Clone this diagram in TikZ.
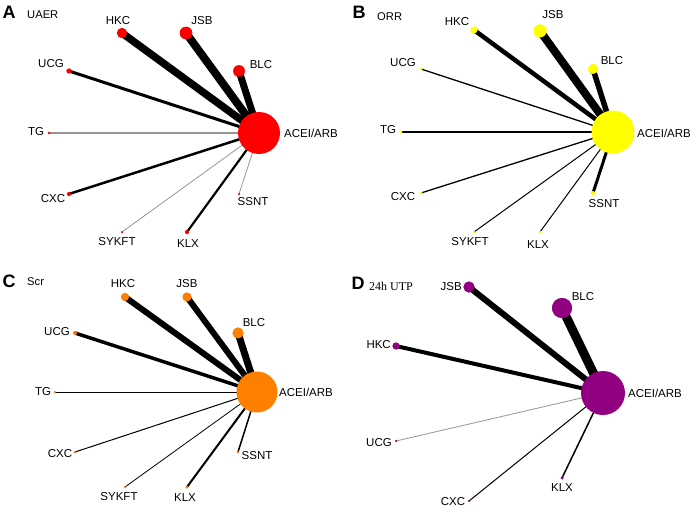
\documentclass[tikz,border=0pt]{standalone}
\usepackage{fontspec}
\setmainfont{Liberation Sans}
\newfontfamily\serifttl{Liberation Serif}
\definecolor{cA}{RGB}{255,0,0}
\definecolor{cB}{RGB}{255,255,0}
\definecolor{cC}{RGB}{255,128,0}
\definecolor{cD}{RGB}{145,0,128}
\definecolor{edgegray}{RGB}{150,150,150}
\tikzset{
  dot/.style={circle,inner sep=0pt,draw=none},
  lab/.style={inner sep=0pt,font=\fontsize{11.5}{12}\selectfont},
  panel/.style={inner sep=0pt,font=\fontsize{18}{19}\selectfont\bfseries},
  ttl/.style={inner sep=0pt,font=\fontsize{11.2}{12}\selectfont},
  edge/.style={draw=black},
  gedge/.style={draw=edgegray}
}
\begin{document}
\begin{tikzpicture}[x=1pt,y=-1pt]
\useasboundingbox (0,0) rectangle (699,511);
\fill[white] (0,0) rectangle (699,511);

% ================= Panel A =================
\node[panel] (A-let) at (9,12) {A};
\node[ttl,anchor=west] (A-ttl) at (27,15) {UAER};
\coordinate (A-c) at (259,133);
\node[dot,fill=cA,minimum size=10pt] (A-HKC) at (122,33) {};
\node[dot,fill=cA,minimum size=12.5pt] (A-JSB) at (186,33) {};
\node[dot,fill=cA,minimum size=11.5pt] (A-BLC) at (239,71) {};
\node[dot,fill=cA,minimum size=5pt] (A-UCG) at (69,71) {};
\node[dot,fill=cA,minimum size=2.5pt] (A-TG) at (49,133) {};
\node[dot,fill=cA,minimum size=4pt] (A-CXC) at (69,194) {};
\node[dot,fill=cA,minimum size=2pt] (A-SYKFT) at (122,232) {};
\node[dot,fill=cA,minimum size=4pt] (A-KLX) at (187,232) {};
\node[dot,fill=cA,minimum size=2pt] (A-SSNT) at (239,194) {};
\draw[edge,line width=7.5pt] (A-HKC.center) -- (A-c);
\draw[edge,line width=8pt] (A-JSB.center) -- (A-c);
\draw[edge,line width=7pt] (A-BLC.center) -- (A-c);
\draw[edge,line width=3pt] (A-UCG.center) -- (A-c);
\draw[gedge,line width=1.2pt] (A-TG.center) -- (A-c);
\draw[edge,line width=2.5pt] (A-CXC.center) -- (A-c);
\draw[gedge,line width=0.8pt] (A-SYKFT.center) -- (A-c);
\draw[edge,line width=2.2pt] (A-KLX.center) -- (A-c);
\draw[gedge,line width=0.8pt] (A-SSNT.center) -- (A-c);
\foreach \n/\s in {HKC/10,JSB/12.5,BLC/11.5,UCG/5,TG/2.5,CXC/4,SYKFT/2,KLX/4,SSNT/2}
  {\fill[cA] (A-\n.center) circle (\s/2);}
\node[dot,fill=cA,minimum size=42pt] (A-ACEI) at (A-c) {};
\node[lab,anchor=west] (A-ACEI-l) at (284,133) {ACEI/ARB};
\node[lab] (A-HKC-l) at (118,21) {HKC};
\node[lab] (A-JSB-l) at (202,21) {JSB};
\node[lab] (A-BLC-l) at (261,65) {BLC};
\node[lab] (A-UCG-l) at (51,64) {UCG};
\node[lab] (A-TG-l) at (36,132) {TG};
\node[lab] (A-CXC-l) at (53,199) {CXC};
\node[lab] (A-SYKFT-l) at (117,242) {SYKFT};
\node[lab] (A-KLX-l) at (188,244) {KLX};
\node[lab] (A-SSNT-l) at (253,202) {SSNT};

% ================= Panel B =================
\node[panel] (B-let) at (359,12) {B};
\node[ttl,anchor=west] (B-ttl) at (377,17) {ORR};
\coordinate (B-c) at (613,132);
\node[dot,fill=cB,minimum size=7pt] (B-HKC) at (474,30) {};
\node[dot,fill=cB,minimum size=13pt] (B-JSB) at (540,31) {};
\node[dot,fill=cB,minimum size=10pt] (B-BLC) at (593,69) {};
\node[dot,fill=cB,minimum size=3pt] (B-UCG) at (421,69) {};
\node[dot,fill=cB,minimum size=3pt] (B-TG) at (401,132) {};
\node[dot,fill=cB,minimum size=3pt] (B-CXC) at (421,193) {};
\node[dot,fill=cB,minimum size=2.5pt] (B-SYKFT) at (474,232) {};
\node[dot,fill=cB,minimum size=2.5pt] (B-KLX) at (540,232) {};
\node[dot,fill=cB,minimum size=4pt] (B-SSNT) at (593,193) {};
\draw[edge,line width=4.5pt] (B-HKC.center) -- (B-c);
\draw[edge,line width=8pt] (B-JSB.center) -- (B-c);
\draw[edge,line width=5.5pt] (B-BLC.center) -- (B-c);
\draw[edge,line width=1.3pt] (B-UCG.center) -- (B-c);
\draw[edge,line width=1.5pt] (B-TG.center) -- (B-c);
\draw[edge,line width=1.3pt] (B-CXC.center) -- (B-c);
\draw[edge,line width=1pt] (B-SYKFT.center) -- (B-c);
\draw[edge,line width=1pt] (B-KLX.center) -- (B-c);
\draw[edge,line width=3pt] (B-SSNT.center) -- (B-c);
\foreach \n/\s in {HKC/7,JSB/13,BLC/10,UCG/3,TG/3,CXC/3,SYKFT/2.5,KLX/2.5,SSNT/4}
  {\fill[cB] (B-\n.center) circle (\s/2);}
\node[dot,fill=cB,minimum size=43pt] (B-ACEI) at (B-c) {};
\node[lab,anchor=west] (B-ACEI-l) at (637,133) {ACEI/ARB};
\node[lab] (B-HKC-l) at (457,22) {HKC};
\node[lab] (B-JSB-l) at (553,15) {JSB};
\node[lab] (B-BLC-l) at (612,61) {BLC};
\node[lab] (B-UCG-l) at (403,63) {UCG};
\node[lab] (B-TG-l) at (388,130) {TG};
\node[lab] (B-CXC-l) at (403,197) {CXC};
\node[lab] (B-SYKFT-l) at (470,242) {SYKFT};
\node[lab] (B-KLX-l) at (538,245) {KLX};
\node[lab] (B-SSNT-l) at (604,204) {SSNT};

% ================= Panel C =================
\node[panel] (C-let) at (9,281) {C};
\node[ttl,anchor=west] (C-ttl) at (27,282) {Scr};
\coordinate (C-c) at (257,392);
\node[dot,fill=cC,minimum size=8pt] (C-HKC) at (125,297) {};
\node[dot,fill=cC,minimum size=9pt] (C-JSB) at (187,297) {};
\node[dot,fill=cC,minimum size=11pt] (C-BLC) at (238,333) {};
\node[dot,fill=cC,minimum size=4pt] (C-UCG) at (75,333) {};
\node[dot,fill=cC,minimum size=2pt] (C-TG) at (55,392) {};
\node[dot,fill=cC,minimum size=2.5pt] (C-CXC) at (75,452) {};
\node[dot,fill=cC,minimum size=2pt] (C-SYKFT) at (125,487) {};
\node[dot,fill=cC,minimum size=3pt] (C-KLX) at (187,487) {};
\node[dot,fill=cC,minimum size=2.5pt] (C-SSNT) at (238,452) {};
\draw[edge,line width=6pt] (C-HKC.center) -- (C-c);
\draw[edge,line width=6pt] (C-JSB.center) -- (C-c);
\draw[edge,line width=7pt] (C-BLC.center) -- (C-c);
\draw[edge,line width=3.5pt] (C-UCG.center) -- (C-c);
\draw[edge,line width=1pt] (C-TG.center) -- (C-c);
\draw[edge,line width=1pt] (C-CXC.center) -- (C-c);
\draw[edge,line width=0.8pt] (C-SYKFT.center) -- (C-c);
\draw[edge,line width=2pt] (C-KLX.center) -- (C-c);
\draw[edge,line width=1.5pt] (C-SSNT.center) -- (C-c);
\foreach \n/\s in {HKC/8,JSB/9,BLC/11,UCG/4,TG/2,CXC/2.5,SYKFT/2,KLX/3,SSNT/2.5}
  {\fill[cC] (C-\n.center) circle (\s/2);}
\node[dot,fill=cC,minimum size=41pt] (C-ACEI) at (C-c) {};
\node[lab,anchor=west] (C-ACEI-l) at (279,392) {ACEI/ARB};
\node[lab] (C-HKC-l) at (123,284) {HKC};
\node[lab] (C-JSB-l) at (187,284) {JSB};
\node[lab] (C-BLC-l) at (254,323) {BLC};
\node[lab] (C-UCG-l) at (57,332) {UCG};
\node[lab] (C-TG-l) at (43,392) {TG};
\node[lab] (C-CXC-l) at (60,454) {CXC};
\node[lab] (C-SYKFT-l) at (119,497) {SYKFT};
\node[lab] (C-KLX-l) at (185,498) {KLX};
\node[lab] (C-SSNT-l) at (257,456) {SSNT};

% ================= Panel D =================
\node[panel] (D-let) at (358,283) {D};
\node[ttl,anchor=west,font=\fontsize{12}{13}\serifttl] (D-ttl) at (369,286) {24h UTP};
\coordinate (D-c) at (603,393);
\node[dot,fill=cD,minimum size=11pt] (D-JSB) at (469,287) {};
\node[dot,fill=cD,minimum size=20pt] (D-BLC) at (562,308) {};
\node[dot,fill=cD,minimum size=7pt] (D-HKC) at (396,346) {};
\node[dot,fill=cD,minimum size=2pt] (D-UCG) at (396,441) {};
\node[dot,fill=cD,minimum size=2pt] (D-CXC) at (469,501) {};
\node[dot,fill=cD,minimum size=3pt] (D-KLX) at (562,478) {};
\draw[edge,line width=6pt] (D-JSB.center) -- (D-c);
\draw[edge,line width=9pt] (D-BLC.center) -- (D-c);
\draw[edge,line width=4pt] (D-HKC.center) -- (D-c);
\draw[gedge,line width=0.8pt] (D-UCG.center) -- (D-c);
\draw[edge,line width=1pt] (D-CXC.center) -- (D-c);
\draw[edge,line width=1.5pt] (D-KLX.center) -- (D-c);
\foreach \n/\s in {JSB/11,BLC/20,HKC/7,UCG/2,CXC/2,KLX/3}
  {\fill[cD] (D-\n.center) circle (\s/2);}
\node[dot,fill=cD,minimum size=44pt] (D-ACEI) at (D-c) {};
\node[lab,anchor=west] (D-ACEI-l) at (628,393) {ACEI/ARB};
\node[lab,anchor=east] (D-JSB-l) at (462,287) {JSB};
\node[lab] (D-BLC-l) at (583,297) {BLC};
\node[lab,anchor=east] (D-HKC-l) at (391,345) {HKC};
\node[lab] (D-UCG-l) at (379,443) {UCG};
\node[lab] (D-CXC-l) at (453,502) {CXC};
\node[lab] (D-KLX-l) at (562,488) {KLX};
\end{tikzpicture}
\end{document}
